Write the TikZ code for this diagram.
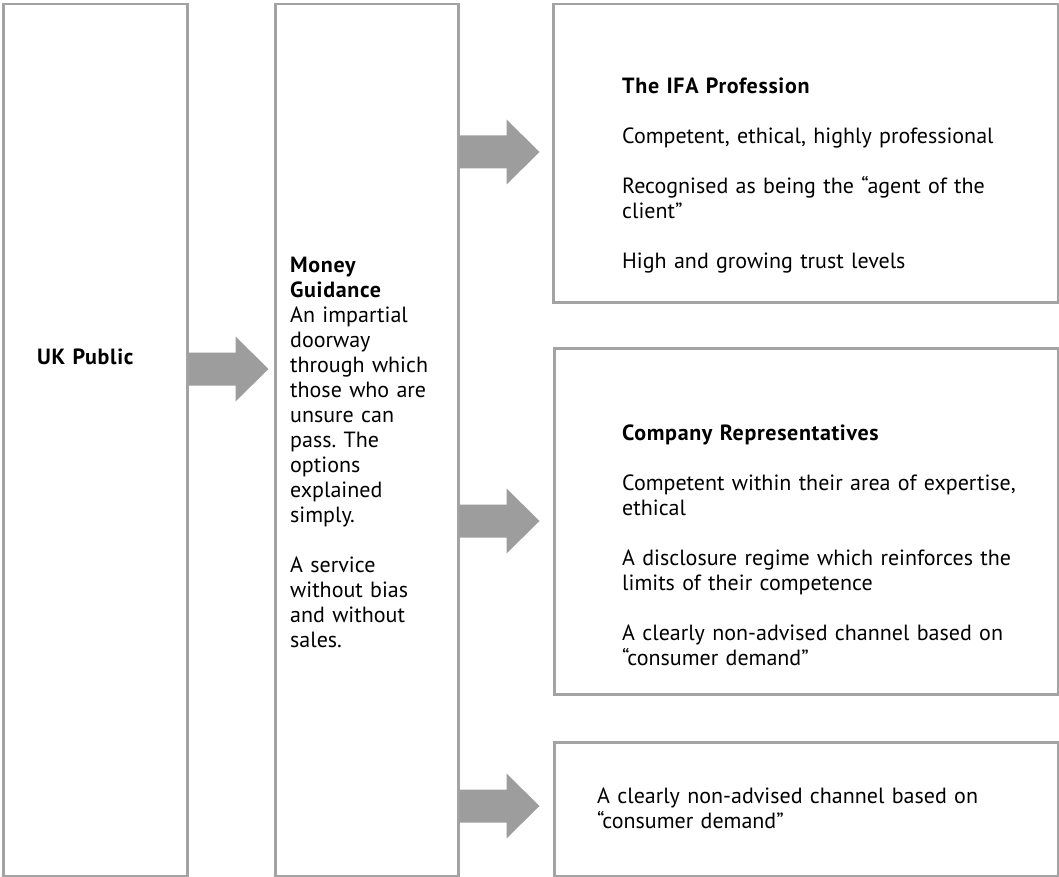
\documentclass[tikz,border=0pt]{standalone}
\usepackage{fontspec}
\setmainfont{PT Sans}[BoldFeatures={LetterSpace=3}]
\definecolor{edge}{HTML}{A3A3A3}
\definecolor{arrowgray}{HTML}{9D9D9D}
\begin{document}
\frenchspacing
\begin{tikzpicture}[x=1pt,y=-1pt,
  panel/.style={draw=edge, line width=2.5pt, fill=white, anchor=north west, inner sep=0pt},
  txt/.style={anchor=base west, inner sep=0pt, align=left, text width=#1,
    font=\fontsize{22}{25}\selectfont},
  txt/.default=440pt,
  blockarrow/.pic={\fill[arrowgray] (0,-16.5) -- (47,-16.5) -- (47,-32.5) -- (80,0)
    -- (47,32.5) -- (47,16.5) -- (0,16.5) -- cycle;}]
\useasboundingbox (0,0) rectangle (1059,877);
\fill[white] (0,0) rectangle (1059,877);

% panels
\node[panel, minimum width=184pt, minimum height=872pt] (uk)  at (2,3) {};
\node[panel, minimum width=183pt, minimum height=872pt] (mg)  at (274,3) {};
\node[panel, minimum width=505pt, minimum height=298pt] (ifa) at (552,3) {};
\node[panel, minimum width=504pt, minimum height=346pt] (rep) at (553,347) {};
\node[panel, minimum width=504pt, minimum height=134pt] (chan) at (553,741) {};

% block arrows between the panels
\pic at (uk.east |- 0,369) {blockarrow};
\pic at (mg.east |- 0,152) {blockarrow};
\pic at (mg.east |- 0,521) {blockarrow};
\pic at (mg.east |- 0,806) {blockarrow};

% texts
\node[txt=140pt] (ukt) at (37,364) {\textbf{UK Public}};
\node[txt=160pt] (mgt) at (290,272) {\textbf{Money}\\\textbf{Guidance}\\An impartial\\doorway\\through which\\those who are\\unsure can\\pass. The\\options\\explained\\simply.\\[25pt]A service\\without bias\\and without\\sales.};
\node[txt] (ifat) at (622,94) {\textbf{The IFA Profession}\\[25pt]Competent, ethical, highly professional\\[25pt]Recognised as being the ``agent of the\\client''\\[25pt]High and growing trust levels};
\node[txt] (rept) at (622,440) {\textbf{Company Representatives}\\[25pt]Competent within their area of expertise,\\ethical\\[25pt]A disclosure regime which reinforces the\\limits of their competence\\[25pt]A clearly non-advised channel based on\\``consumer demand''};
\node[txt] (chant) at (597,803) {A clearly non-advised channel based on\\``consumer demand''};
\end{tikzpicture}
\end{document}
